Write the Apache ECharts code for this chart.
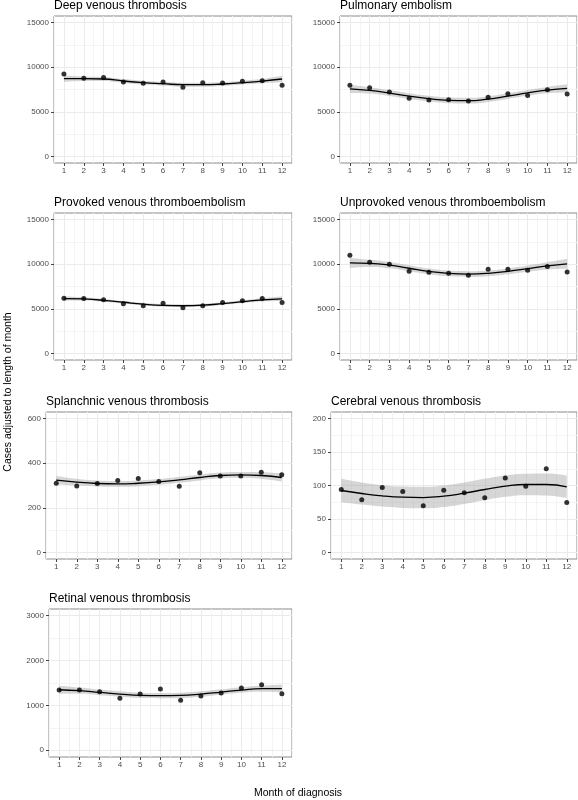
<!DOCTYPE html>
<html>
<head>
<meta charset="utf-8">
<script src="https://cdn.jsdelivr.net/npm/echarts@6/dist/echarts.min.js"></script>
<style>
html,body{margin:0;padding:0;background:#fff;}
#chart{width:578px;height:800px;}
</style>
</head>
<body>
<div id="chart"></div>
<script>
// ---- data ----
const months = ['1', '2', '3', '4', '5', '6', '7', '8', '9', '10', '11', '12'];

const ticks15000 = [0, 5000, 10000, 15000];
const minor15000 = [2500, 7500, 12500];
const ticks600 = [0, 200, 400, 600];
const minor600 = [100, 300, 500];
const ticks200 = [0, 50, 100, 150, 200];
const minor200 = [25, 75, 125, 175];
const ticks3000 = [0, 1000, 2000, 3000];
const minor3000 = [500, 1500, 2500];

const dvtPoints = [9250, 8750, 8860, 8340, 8190, 8340, 7740, 8265, 8230, 8415, 8490, 7966];
const dvtFit    = [8710, 8710, 8680, 8450, 8270, 8150, 8040, 8040, 8120, 8270, 8450, 8680];
const dvtLower  = [8340, 8450, 8450, 8230, 8050, 7930, 7820, 7820, 7900, 8050, 8200, 8310];
const dvtUpper  = [9080, 8970, 8910, 8670, 8490, 8370, 8260, 8260, 8340, 8490, 8700, 9050];

const pePoints = [7966, 7700, 7220, 6510, 6320, 6360, 6210, 6620, 7030, 6840, 7480, 6990];
const peFit    = [7580, 7400, 7100, 6750, 6470, 6290, 6250, 6430, 6760, 7120, 7430, 7620];
const peLower  = [7120, 7040, 6770, 6430, 6150, 5970, 5930, 6110, 6440, 6790, 7070, 7160];
const peUpper  = [8040, 7760, 7430, 7070, 6790, 6610, 6570, 6750, 7080, 7450, 7790, 8080];

const provPoints = [6190, 6150, 6000, 5560, 5330, 5630, 5110, 5330, 5710, 5890, 6150, 5710];
const provFit    = [6150, 6100, 5950, 5730, 5520, 5380, 5340, 5400, 5580, 5800, 6010, 6120];
const provLower  = [5900, 5920, 5790, 5580, 5370, 5230, 5190, 5250, 5430, 5640, 5830, 5870];
const provUpper  = [6400, 6280, 6110, 5880, 5670, 5530, 5490, 5550, 5730, 5960, 6190, 6370];

const unprovPoints = [11000, 10220, 10000, 9210, 9100, 8990, 8770, 9440, 9440, 9330, 9740, 9140];
const unprovFit    = [10150, 10100, 9900, 9550, 9200, 8970, 8900, 8980, 9200, 9500, 9820, 10050];
const unprovLower  = [9590, 9700, 9550, 9220, 8880, 8650, 8580, 8660, 8870, 9150, 9420, 9490];
const unprovUpper  = [10710, 10500, 10250, 9880, 9520, 9290, 9220, 9300, 9530, 9850, 10220, 10610];

const splPoints = [310, 298, 309, 322, 331, 318, 297, 357, 343, 343, 360, 348];
const splFit    = [324, 315, 309, 307, 310, 316, 325, 336, 345, 348, 345, 336];
const splLower  = [305, 300, 296, 294, 297, 303, 312, 323, 332, 335, 330, 317];
const splUpper  = [343, 330, 322, 320, 323, 329, 338, 349, 358, 361, 360, 355];

const cvtPoints = [94, 78.7, 97, 91, 69.8, 93, 89, 81.7, 111.4, 99, 125, 74.7];
const cvtFit    = [92.5, 88, 84.5, 82.5, 82, 84, 88.5, 94, 99, 101.5, 101.5, 98];
const cvtLower  = [75, 71.5, 68.5, 66.5, 66, 68, 72.5, 78, 83, 85.5, 85, 81];
const cvtUpper  = [110, 104.5, 100.5, 98.5, 98, 100, 104.5, 110, 115, 117.5, 118, 115];

const retPoints = [1343, 1343, 1306, 1158, 1254, 1365, 1113, 1210, 1276, 1388, 1462, 1261];
const retFit    = [1350, 1328, 1291, 1254, 1224, 1217, 1224, 1254, 1298, 1343, 1373, 1373];
const retLower  = [1260, 1258, 1229, 1194, 1164, 1157, 1164, 1194, 1238, 1281, 1303, 1283];
const retUpper  = [1440, 1398, 1353, 1314, 1284, 1277, 1284, 1314, 1358, 1405, 1443, 1463];

// ---- layout ----
const FONT = '"Liberation Sans", Arial, Helvetica, sans-serif';
const panels = [
  {title: 'Deep venous thrombosis', pts: dvtPoints, fit: dvtFit, lo: dvtLower, hi: dvtUpper,
   ticks: ticks15000, minor: minor15000, ymin: -750, ymax: 15750, left: 54, top: 16, width: 238, height: 147},
  {title: 'Pulmonary embolism', pts: pePoints, fit: peFit, lo: peLower, hi: peUpper,
   ticks: ticks15000, minor: minor15000, ymin: -750, ymax: 15750, left: 340, top: 16, width: 237, height: 147},
  {title: 'Provoked venous thromboembolism', pts: provPoints, fit: provFit, lo: provLower, hi: provUpper,
   ticks: ticks15000, minor: minor15000, ymin: -750, ymax: 15750, left: 54, top: 213, width: 238, height: 147},
  {title: 'Unprovoked venous thromboembolism', pts: unprovPoints, fit: unprovFit, lo: unprovLower, hi: unprovUpper,
   ticks: ticks15000, minor: minor15000, ymin: -750, ymax: 15750, left: 340, top: 213, width: 237, height: 147},
  {title: 'Splanchnic venous thrombosis', pts: splPoints, fit: splFit, lo: splLower, hi: splUpper,
   ticks: ticks600, minor: minor600, ymin: -30, ymax: 630, left: 46, top: 412, width: 246, height: 147},
  {title: 'Cerebral venous thrombosis', pts: cvtPoints, fit: cvtFit, lo: cvtLower, hi: cvtUpper,
   ticks: ticks200, minor: minor200, ymin: -10, ymax: 210, left: 331, top: 412, width: 246, height: 147},
  {title: 'Retinal venous thrombosis', pts: retPoints, fit: retFit, lo: retLower, hi: retUpper,
   ticks: ticks3000, minor: minor3000, ymin: -150, ymax: 3150, left: 49, top: 609, width: 243, height: 148}
];

const MAJOR = {color: '#ebebeb', width: 1, type: 'solid'};
const MINOR = {color: '#f4f4f4', width: 1, type: 'solid'};

const grid = [], xAxis = [], yAxis = [], series = [], title = [];
panels.forEach((p, i) => {
  grid.push({left: p.left, top: p.top, width: p.width, height: p.height, show: true,
             borderColor: '#8a8a8a', borderWidth: 1, backgroundColor: '#fff', containLabel: false, z: 0});
  title.push({text: p.title, left: p.left, top: p.top - 16, padding: 0,
              textStyle: {fontSize: 12, fontWeight: 'normal', color: '#000', fontFamily: FONT}});
  xAxis.push({type: 'category', gridIndex: i, data: months, boundaryGap: true,
    splitLine: {show: true, interval: 0, lineStyle: MINOR},
    axisLine: {show: false, onZero: false},
    axisTick: {show: true, alignWithLabel: true, interval: 0, length: 3, lineStyle: {color: '#444', width: 1}},
    axisLabel: {show: true, interval: 0, fontSize: 8, color: '#4d4d4d', margin: 4, fontFamily: FONT}});
  yAxis.push({type: 'value', gridIndex: i, min: p.ymin, max: p.ymax,
    splitLine: {show: false}, axisLine: {show: false, onZero: false},
    axisTick: {show: true, customValues: p.ticks, length: 3, lineStyle: {color: '#444', width: 1}},
    axisLabel: {show: true, customValues: p.ticks, fontSize: 8, color: '#4d4d4d', margin: 5, fontFamily: FONT,
                formatter: v => String(v)}});
  const gridLines = []
    .concat(p.minor.map(v => ({yAxis: v, lineStyle: MINOR})))
    .concat(months.map(m => ({xAxis: m, lineStyle: MAJOR})))
    .concat(p.ticks.map(v => ({yAxis: v, lineStyle: MAJOR})));
  series.push({type: 'line', xAxisIndex: i, yAxisIndex: i, data: p.fit, z: 1,
    showSymbol: false, symbol: 'none', lineStyle: {opacity: 0}, silent: true,
    markLine: {silent: true, z: 1, symbol: ['none', 'none'], label: {show: false}, emphasis: {disabled: true},
               animation: false, precision: 2, data: gridLines}});
  series.push({type: 'line', xAxisIndex: i, yAxisIndex: i, stack: 'band' + i, smooth: true,
    data: p.lo, symbol: 'none', lineStyle: {opacity: 0}, z: 2, silent: true});
  series.push({type: 'line', xAxisIndex: i, yAxisIndex: i, stack: 'band' + i, smooth: true,
    data: p.hi.map((h, k) => h - p.lo[k]), symbol: 'none', lineStyle: {opacity: 0},
    areaStyle: {color: 'rgba(153,153,153,0.4)', opacity: 1}, z: 2, silent: true});
  series.push({type: 'line', xAxisIndex: i, yAxisIndex: i, smooth: true, data: p.fit,
    symbol: 'none', lineStyle: {color: '#000', width: 1.3}, z: 3, silent: true});
  series.push({type: 'scatter', xAxisIndex: i, yAxisIndex: i, data: p.pts,
    symbolSize: 5, itemStyle: {color: '#000'}, z: 4, silent: true});
});

const chart = echarts.init(document.getElementById('chart'), null, {renderer: 'canvas'});
chart.setOption({
  animation: false,
  backgroundColor: '#fff',
  title, grid, xAxis, yAxis, series,
  graphic: [
    {type: 'text', x: 298, y: 793, style: {text: 'Month of diagnosis', font: '10.5px ' + FONT, fill: '#000',
      textAlign: 'center', textVerticalAlign: 'middle'}},
    {type: 'text', x: 8, y: 392, rotation: Math.PI / 2, style: {text: 'Cases adjusted to length of month',
      font: '10.5px ' + FONT, fill: '#000', textAlign: 'center', textVerticalAlign: 'middle'}}
  ]
});
</script>
</body>
</html>
